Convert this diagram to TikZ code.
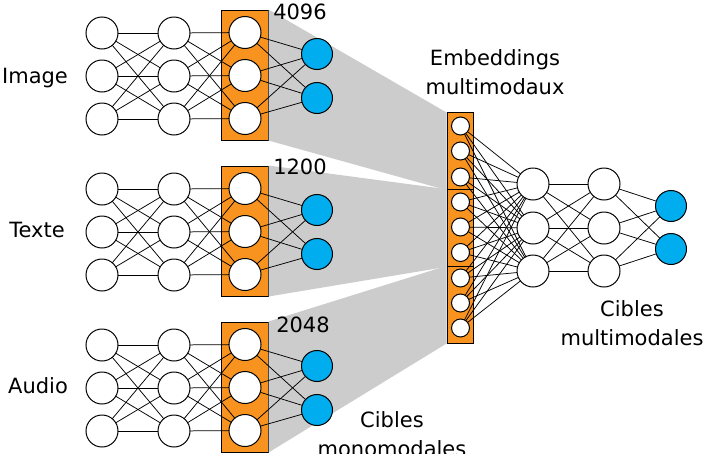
\documentclass[tikz,border=0pt]{standalone}
\usepackage{fontspec}
\setmainfont{DejaVu Sans}
\definecolor{corange}{HTML}{F7931E}
\definecolor{cblue}{HTML}{00AEEF}
\definecolor{cgray}{HTML}{CCCCCC}
\pgfdeclarelayer{bg}
\pgfdeclarelayer{lines}
\pgfsetlayers{bg,lines,main}
\begin{document}
\begin{tikzpicture}[x=1pt,y=-1pt,
  neuron/.style={circle,draw,line width=1pt,fill=white,minimum size=32pt,inner sep=0pt},
  outn/.style={neuron,fill=cblue,minimum size=31pt},
  smalln/.style={neuron,minimum size=18pt},
  obox/.style={draw,line width=1pt,fill=corange,minimum width=47pt,minimum height=130pt,inner sep=0pt},
  ebox/.style={draw,line width=1pt,fill=corange,minimum width=26pt,minimum height=76.7pt,inner sep=0pt},
  conn/.style={line width=0.75pt},
  lbl/.style={font=\fontsize{21}{29}\selectfont,align=center,inner sep=0pt}]
\useasboundingbox (0,0) rectangle (706,453);

% embedding boxes
\begin{pgfonlayer}{bg}
\node[ebox] (e1) at (460,151.3) {};
\node[ebox] (e2) at (460,228) {};
\node[ebox] (e3) at (460,304.7) {};
\end{pgfonlayer}

\foreach \g/\nm in {0/a,1/b,2/c} {
  \pgfmathsetmacro\off{156*\g}
  \begin{pgfonlayer}{bg}
  \node[obox] (box\nm) at (244.5,75+\off) {};
  \end{pgfonlayer}
  \foreach \i/\y in {1/33,2/76,3/119} {
    \node[neuron] (\nm1\i) at (102,\y+\off) {};
    \node[neuron] (\nm2\i) at (174,\y+\off) {};
    \node[neuron] (\nm3\i) at (245,\y-0.5+\off) {};
  }
  \node[outn] (\nm41) at (317,54+\off) {};
  \node[outn] (\nm42) at (317,98+\off) {};
  \begin{pgfonlayer}{lines}
  \foreach \i in {1,2,3} {
    \foreach \j in {1,2,3} {
      \draw[conn] (\nm1\i.center) -- (\nm2\j.center);
      \draw[conn] (\nm2\i.center) -- (\nm3\j.center);
    }
    \draw[conn] (\nm3\i.center) -- (\nm41.center);
    \draw[conn] (\nm3\i.center) -- (\nm42.center);
  }
  \end{pgfonlayer}
}

% gray projections
\begin{pgfonlayer}{bg}
\fill[cgray] (boxa.north east) -- (e1.north west) -- (e1.south west) -- (boxa.south east) -- cycle;
\fill[cgray] (boxb.north east) -- (e2.north west) -- (e2.south west) -- (boxb.south east) -- cycle;
\fill[cgray] (boxc.north east) -- (e3.north west) -- (e3.south west) -- (boxc.south east) -- cycle;
\end{pgfonlayer}

% embedding neurons
\foreach \k/\y in {1/126,2/151,3/177,4/202,5/227,6/252.5,7/278,8/303,9/328} {
  \node[smalln] (m\k) at (460.5,\y) {};
}
% multimodal network
\foreach \i/\y in {1/184,2/228,3/271} {
  \node[neuron] (h\i) at (533,\y) {};
  \node[neuron] (g\i) at (604,\y) {};
}
\node[outn] (o1) at (671,206) {};
\node[outn] (o2) at (671,249) {};
\begin{pgfonlayer}{lines}
\foreach \k in {1,...,9} {
  \foreach \j in {1,2,3} {
    \draw[conn] (m\k.center) -- (h\j.center);
  }
}
\foreach \i in {1,2,3} {
  \foreach \j in {1,2,3} {
    \draw[conn] (h\i.center) -- (g\j.center);
  }
  \draw[conn] (g\i.center) -- (o1.center);
  \draw[conn] (g\i.center) -- (o2.center);
}
\end{pgfonlayer}

% labels
\node[lbl] (limg) at (35,78) {Image};
\node[lbl] (ltxt) at (37,230) {Texte};
\node[lbl] (laud) at (38,386) {Audio};
\node[lbl] (n1) at (300,12) {4096};
\node[lbl] (n2) at (300,167) {1200};
\node[lbl] (n3) at (303,324.5) {2048};
\node[lbl] (lemb) at (495,72) {Embeddings\\multimodaux};
\node[lbl] (lmm) at (632,323) {Cibles\\multimodales};
\node[lbl] (lmo) at (392,434) {Cibles\\monomodales};
\end{tikzpicture}
\end{document}
